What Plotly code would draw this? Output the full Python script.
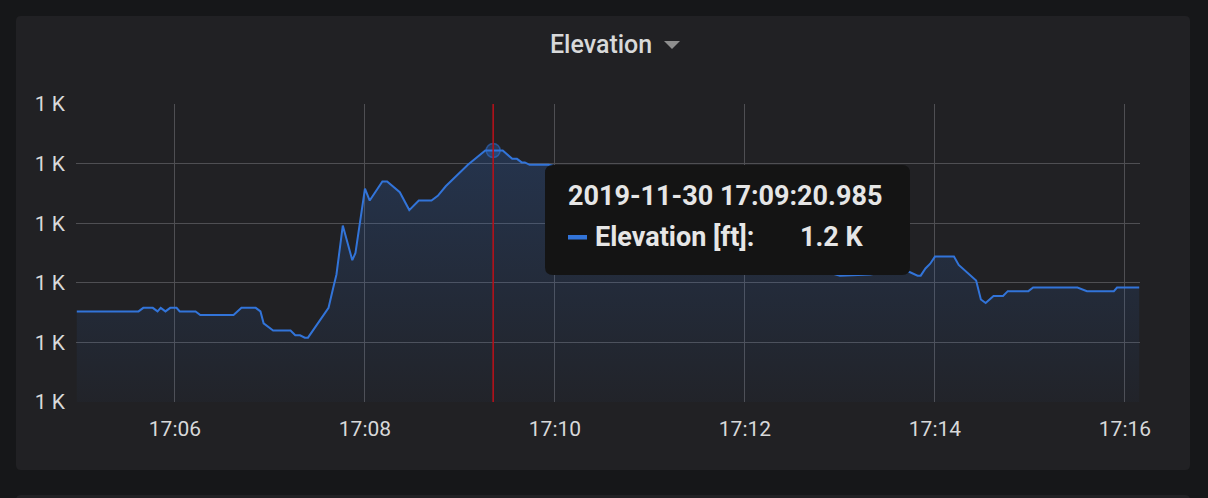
import plotly.graph_objects as go

# ---- data ----
DAY = "2019-11-30"
times = [
    "17:04:58", "17:05:37", "17:05:40", "17:05:46", "17:05:49", "17:05:51", "17:05:54", "17:05:57",
    "17:06:01", "17:06:03", "17:06:13", "17:06:16", "17:06:37", "17:06:42", "17:06:51", "17:06:54",
    "17:06:56", "17:07:02", "17:07:13", "17:07:16", "17:07:19", "17:07:22", "17:07:24", "17:07:27",
    "17:07:32", "17:07:37", "17:07:40", "17:07:42", "17:07:46", "17:07:52", "17:07:54", "17:08:00",
    "17:08:03", "17:08:06", "17:08:08", "17:08:11", "17:08:14", "17:08:22", "17:08:28", "17:08:34",
    "17:08:42", "17:08:46", "17:08:51", "17:08:57", "17:09:05", "17:09:16", "17:09:21", "17:09:27",
    "17:09:33", "17:09:36", "17:09:39", "17:09:41", "17:09:44", "17:09:56", "17:10:16", "17:10:41",
    "17:11:06", "17:11:32", "17:11:57", "17:12:22", "17:12:47", "17:13:00", "17:13:19", "17:13:38",
    "17:13:44", "17:13:49", "17:13:51", "17:13:54", "17:13:57", "17:14:00", "17:14:12", "17:14:15",
    "17:14:26", "17:14:29", "17:14:32", "17:14:37", "17:14:43", "17:14:46", "17:14:59", "17:15:02",
    "17:15:30", "17:15:36", "17:15:53", "17:15:55", "17:16:09",
]
elevation_ft = [
    1076, 1076, 1079, 1079, 1076, 1079, 1076, 1079,
    1079, 1076, 1076, 1073, 1073, 1079, 1079, 1076,
    1066, 1060, 1060, 1056, 1056, 1054, 1054, 1060,
    1069, 1079, 1096, 1107, 1148, 1119, 1125, 1179,
    1169, 1175, 1178, 1185, 1185, 1176, 1161, 1169,
    1169, 1173, 1181, 1189, 1199, 1211, 1211, 1211,
    1204, 1204, 1201, 1201, 1199, 1199, 1193, 1182,
    1169, 1154, 1136, 1121, 1111, 1106, 1107, 1111,
    1109, 1106, 1106, 1112, 1116, 1122, 1122, 1115,
    1102, 1086, 1083, 1089, 1089, 1093, 1093, 1096,
    1096, 1093, 1093, 1096, 1096,
]
y_tickvals = [1000, 1050, 1100, 1150, 1200, 1250]
y_ticktext = ["1 K", "1 K", "1 K", "1 K", "1 K", "1 K"]
x_range = ["17:04:57.5", "17:16:09.5"]
hover_time = "17:09:20.985"
hover_index = 46
tooltip_time_text = "2019-11-30 17:09:20.985"
tooltip_series = "Elevation [ft]:"
tooltip_value = "1.2 K"
title_text = "Elevation"

xs = [f"{DAY} {t}" for t in times]

# ---- geometry helpers (pixel -> paper) ----
L, R, T, B = 76, 1140, 104, 402
W, H = 1208, 498
def xp(px):
    return (px - L) / (R - L)
def yp(py):
    return (B - py) / (B - T)

def rrect(x0, y0, x1, y1, r):
    rx = r / (R - L)
    ry = r / (B - T)
    a, b, c, d = xp(x0), xp(x1), yp(y0), yp(y1)
    return (f"M{a+rx},{c} L{b-rx},{c} Q{b},{c} {b},{c-ry} L{b},{d+ry} Q{b},{d} {b-rx},{d} "
            f"L{a+rx},{d} Q{a},{d} {a},{d+ry} L{a},{c-ry} Q{a},{c} {a+rx},{c} Z")

BLUE = "#3274d9"
GRID = "#4f4f53"

fig = go.Figure()
fig.add_trace(go.Scatter(
    x=xs, y=elevation_ft, mode="lines",
    line=dict(color=BLUE, width=2),
    fill="tozeroy",
    fillgradient=dict(type="vertical", start=1000, stop=1215,
                      colorscale=[[0, "rgba(50,116,217,0.03)"], [1, "rgba(50,116,217,0.23)"]]),
    hoverinfo="skip",
))
fig.add_trace(go.Scatter(
    x=[f"{DAY} {hover_time}"], y=[elevation_ft[hover_index]], mode="markers",
    marker=dict(size=14, color="rgba(50,116,217,0.3)", line=dict(color="rgba(50,116,217,0.55)", width=1.5)),
    hoverinfo="skip",
))

shapes = [
    dict(type="path", xref="paper", yref="paper", path=rrect(16, 16, 1190, 470, 5),
         fillcolor="#212124", line=dict(width=0), layer="below"),
    dict(type="path", xref="paper", yref="paper", path=rrect(16, 495, 1190, 520, 5),
         fillcolor="#212124", line=dict(width=0), layer="below"),
    dict(type="path", xref="paper", yref="paper",
         path=f"M{xp(664)},{yp(41)} L{xp(680)},{yp(41)} L{xp(672)},{yp(49)} Z",
         fillcolor="#8e8e8e", line=dict(width=0)),
    dict(type="line", xref="x", yref="paper", x0=f"{DAY} {hover_time}", x1=f"{DAY} {hover_time}",
         y0=0, y1=1, line=dict(color="#b3121b", width=1.6)),
    dict(type="path", xref="paper", yref="paper", path=rrect(545, 165, 910, 275, 8),
         fillcolor="#141414", line=dict(width=0), layer="above"),
    dict(type="rect", xref="paper", yref="paper", x0=xp(568), x1=xp(587), y0=yp(235), y1=yp(239.5),
         fillcolor=BLUE, line=dict(width=0), layer="above"),
]

annotations = [
    dict(text=title_text, xref="paper", yref="paper", x=xp(601), y=yp(44), xanchor="center", yanchor="middle",
         showarrow=False, font=dict(family="Roboto", size=25, color="#d8d9da", weight=500)),
    dict(text=tooltip_time_text, xref="paper", yref="paper", x=xp(566), y=yp(196), xanchor="left", yanchor="middle",
         showarrow=False, font=dict(family="Roboto", size=27, color="#e6e6e6", weight=700)),
    dict(text=tooltip_series, xref="paper", yref="paper", x=xp(593), y=yp(237), xanchor="left", yanchor="middle",
         showarrow=False, font=dict(family="Roboto", size=27, color="#e6e6e6", weight=700)),
    dict(text=tooltip_value, xref="paper", yref="paper", x=xp(798), y=yp(237), xanchor="left", yanchor="middle",
         showarrow=False, font=dict(family="Roboto", size=27, color="#e6e6e6", weight=700)),
]

fig.update_layout(
    width=W, height=H,
    margin=dict(l=L, r=W - R, t=T, b=H - B, pad=0),
    paper_bgcolor="#161719", plot_bgcolor="rgba(0,0,0,0)",
    showlegend=False, hovermode=False,
    shapes=shapes, annotations=annotations,
    font=dict(family="Roboto", color="#d8d9da"),
    xaxis=dict(
        type="date", range=[f"{DAY} {x_range[0]}", f"{DAY} {x_range[1]}"],
        dtick=120000, tickformat="%H:%M", showgrid=True, gridcolor=GRID, gridwidth=1.3,
        zeroline=False, showline=False, ticks="", ticklabelstandoff=12,
        tickfont=dict(family="Roboto", size=21, color="#d8d9da"),
    ),
    yaxis=dict(
        range=[1000, 1250], tickmode="array", tickvals=y_tickvals, ticktext=y_ticktext,
        showgrid=True, gridcolor=GRID, gridwidth=1.3, zeroline=False, showline=False,
        ticks="", ticklabelstandoff=10,
        tickfont=dict(family="Roboto", size=21, color="#d8d9da"),
    ),
)

fig.write_html("out.html", config=dict(displayModeBar=False))
